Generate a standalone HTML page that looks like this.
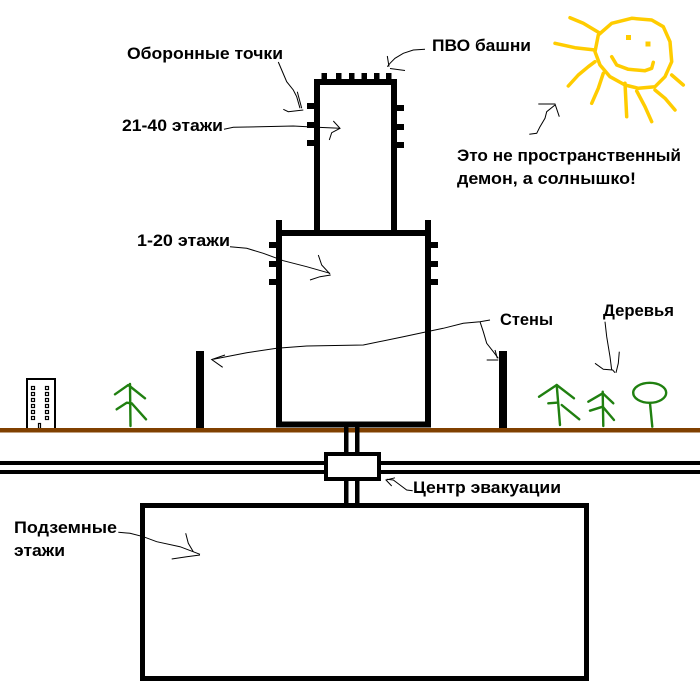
<!DOCTYPE html>
<html><head><meta charset="utf-8"><style>
html,body{margin:0;padding:0;background:#fff;}
svg{display:block;}
text{font-family:"Liberation Sans","DejaVu Sans",sans-serif;font-weight:bold;font-size:17px;fill:#000;}
.c{fill:none;stroke:#000;stroke-width:1;}
.s{fill:none;stroke:#ffcc00;stroke-width:3.5;stroke-linecap:round;stroke-linejoin:round;}
.t{fill:none;stroke:#208010;stroke-width:2.4;stroke-linecap:round;stroke-linejoin:round;}
</style></head><body>
<svg width="700" height="700" viewBox="0 0 700 700" xmlns="http://www.w3.org/2000/svg">
<rect width="700" height="700" fill="#fff"/>

<!-- Sun -->
<path class="s" d="M598.3,35 L611.7,23.3 L631.7,18.3 L651.7,20 L663.3,26.7 L670,41.7 L671.7,61.7 L665,76.7 L655,86.7 L638.3,88.3 L625,85 L610,76.7 L600,65 L595,51.7 Z"/>
<rect x="626" y="35" width="5" height="5" fill="#ffcc00"/>
<rect x="645.5" y="41.5" width="5" height="5" fill="#ffcc00"/>
<polyline class="s" points="611.7,56.7 616.7,65 628.3,69.3 645,70.7 651.7,68.3 653.3,62.3"/>
<polyline class="s" points="570,17.7 583.3,23.3 600,33.3"/>
<polyline class="s" points="555,43.3 575,47.7 595,50"/>
<polyline class="s" points="568.3,86 578.3,75 588.3,66.7 595,61.7"/>
<polyline class="s" points="603.3,73.3 598.3,88.3 591.7,103.3"/>
<polyline class="s" points="625,83.3 626.7,116.7"/>
<polyline class="s" points="636.7,91 645,106.7 651.7,121.7"/>
<polyline class="s" points="655,90 665,98.3 675,110"/>
<polyline class="s" points="671.7,75 683.3,85"/>

<!-- Left building -->
<rect x="27" y="379" width="28" height="50" fill="#fff" stroke="#000" stroke-width="2"/>
<g fill="#fff" stroke="#000" stroke-width="1.2">
<rect x="31.5" y="386.5" width="3" height="3"/><rect x="45.5" y="386.5" width="3" height="3"/>
<rect x="31.5" y="392.5" width="3" height="3"/><rect x="45.5" y="392.5" width="3" height="3"/>
<rect x="31.5" y="398.5" width="3" height="3"/><rect x="45.5" y="398.5" width="3" height="3"/>
<rect x="31.5" y="404.5" width="3" height="3"/><rect x="45.5" y="404.5" width="3" height="3"/>
<rect x="31.5" y="410.5" width="3" height="3"/><rect x="45.5" y="410.5" width="3" height="3"/>
<rect x="31.5" y="416.5" width="3" height="3"/><rect x="45.5" y="416.5" width="3" height="3"/>
<rect x="38.5" y="423.5" width="2" height="5"/>
</g>
<!-- Ground -->
<rect x="0" y="428" width="700" height="4.5" fill="#804000"/>

<!-- Trees -->
<polyline class="t" points="130,384 130.5,426"/>
<polyline class="t" points="115,394.3 128.3,385 145,398.3"/>
<polyline class="t" points="116.7,409.3 126.7,402.7 131.7,403.3 146,419.3"/>

<polyline class="t" points="556.7,385 560,425"/>
<polyline class="t" points="539,396.7 556.7,385 574,398.3"/>
<polyline class="t" points="548.3,403.3 556.7,402.7"/>
<polyline class="t" points="561.7,405 579.3,419.3"/>

<polyline class="t" points="602.7,391.7 603.3,426"/>
<polyline class="t" points="588.3,401.7 602.7,393.3 613.3,403.3"/>
<polyline class="t" points="590,410.7 602.7,406.7 614,420"/>

<ellipse cx="649.7" cy="392.8" rx="16.5" ry="10" fill="none" stroke="#208010" stroke-width="2.4"/>
<polyline class="t" points="650,403.3 652.3,426.7"/>

<!-- Standalone walls -->
<rect x="196" y="351" width="8" height="77" fill="#000"/>
<rect x="499" y="351" width="8" height="77" fill="#000"/>

<g fill="#000">
<!-- Upper tower -->
<rect x="314" y="79" width="6" height="152"/>
<rect x="391" y="79" width="6" height="152"/>
<rect x="314" y="79" width="83" height="6"/>
<rect x="321.5" y="73" width="5.5" height="6"/>
<rect x="336" y="73" width="5.5" height="6"/>
<rect x="349" y="73" width="5.5" height="6"/>
<rect x="361.5" y="73" width="5.5" height="6"/>
<rect x="374" y="73" width="5.5" height="6"/>
<rect x="386" y="73" width="5.5" height="6"/>
<rect x="307" y="103" width="7" height="6"/>
<rect x="307" y="122" width="7" height="6"/>
<rect x="307" y="140" width="7" height="6"/>
<rect x="397" y="105" width="7" height="6"/>
<rect x="397" y="124" width="7" height="6"/>
<rect x="397" y="142" width="7" height="6"/>

<!-- Lower tower -->
<rect x="276" y="220" width="6" height="207"/>
<rect x="425" y="220" width="6" height="207"/>
<rect x="276" y="230" width="155" height="6"/>
<rect x="276" y="421.5" width="155" height="6"/>
<rect x="269" y="242" width="7" height="6"/>
<rect x="269" y="261" width="7" height="6"/>
<rect x="269" y="279" width="7" height="6"/>
<rect x="431" y="242" width="7" height="6"/>
<rect x="431" y="261" width="7" height="6"/>
<rect x="431" y="279" width="7" height="6"/>

<!-- Shaft -->
<rect x="344" y="427" width="4.5" height="77"/>
<rect x="355" y="427" width="4.5" height="77"/>
<!-- Tunnels -->
<rect x="0" y="461" width="700" height="4"/>
<rect x="0" y="470" width="700" height="4"/>
</g>
<rect x="326" y="454" width="53" height="25" fill="#fff" stroke="#000" stroke-width="4"/>

<!-- Underground -->
<rect x="142.5" y="505.5" width="444" height="173" fill="#fff" stroke="#000" stroke-width="5"/>

<!-- Connectors -->
<polyline class="c" points="278.3,62 281.7,70 286.7,81.7 293.3,90 296.7,96.7 300,108.3"/>
<polyline class="c" points="297.3,91.7 301.7,108.3"/>
<polyline class="c" points="283.3,109.3 288.3,111.7 303.3,110"/>

<polyline class="c" points="425,49.3 413.3,50 403.3,53.3 395,58.3 390,63.3 387.3,66.7"/>
<polyline class="c" points="387.3,56 389,66.7"/>
<polyline class="c" points="390,68.5 405,70.5"/>

<polyline class="c" points="224,129.3 233.3,127.3 293.3,126 316.7,127.3 340,128.3"/>
<polyline class="c" points="333.3,121 340,128.3 331.7,132.7 329.3,140"/>

<polyline class="c" points="230,246.7 246.7,248.3 263.3,253.3 283.3,260.7 306.7,266.7 330,273.3"/>
<polyline class="c" points="318.3,255 321.7,265 330,274"/>
<polyline class="c" points="310,280 320,276.7 330.7,275"/>

<polyline class="c" points="490,320 480,321.7 463.3,323.3 443.3,328.3 426.7,331.7 403.3,336.7 363.3,345 306.7,346 276.7,348.3 246.7,352.7 213.3,359.3"/>
<polyline class="c" points="225,355 211.7,359.5 222.7,367.3"/>
<polyline class="c" points="480,321.7 483.3,331.7 486.7,343.3 493.3,351.7 498.3,358.3"/>
<polyline class="c" points="495,350 497.3,358.3"/>
<polyline class="c" points="486.7,360 498.3,360"/>

<polyline class="c" points="605,321.7 606.7,336.7 610,356.7 611.7,370"/>
<polyline class="c" points="595,363.3 603.3,369.3 612.7,370 615,372.7"/>
<polyline class="c" points="619.3,351.7 618.3,363.3 616,372.7"/>

<polyline class="c" points="529.3,134.3 536.7,133.3 540,126.7 545,118.3 546.7,111.7 555,105"/>
<polyline class="c" points="538.3,104 555,104 559.3,116.7"/>

<polyline class="c" points="412.7,490.7 406.7,490 400,485 393.3,480 386.7,479.3"/>
<polyline class="c" points="395,477.8 386,480 391.7,486"/>

<polyline class="c" points="118.3,532.3 130,533.3 143.3,536.7 156.7,541.7 180,546.7 200,554.3"/>
<polyline class="c" points="185.7,533.3 188.3,543.3 193.3,551.7"/>
<polyline class="c" points="171.7,559 186.7,556.7 200,555"/>

<!-- Labels -->
<text x="127" y="59" textLength="156" lengthAdjust="spacingAndGlyphs">Оборонные точки</text>
<text x="432" y="51" textLength="99" lengthAdjust="spacingAndGlyphs">ПВО башни</text>
<text x="122" y="131" textLength="101" lengthAdjust="spacingAndGlyphs">21-40 этажи</text>
<text x="137" y="246" textLength="93" lengthAdjust="spacingAndGlyphs">1-20 этажи</text>
<text x="500" y="325" textLength="53" lengthAdjust="spacingAndGlyphs">Стены</text>
<text x="603" y="316" textLength="71" lengthAdjust="spacingAndGlyphs">Деревья</text>
<text x="457" y="161" textLength="224" lengthAdjust="spacingAndGlyphs">Это не пространственный</text>
<text x="457" y="184" textLength="179" lengthAdjust="spacingAndGlyphs">демон, а солнышко!</text>
<text x="413" y="493" textLength="148" lengthAdjust="spacingAndGlyphs">Центр эвакуации</text>
<text x="14" y="533" textLength="103" lengthAdjust="spacingAndGlyphs">Подземные</text>
<text x="14" y="556" textLength="51" lengthAdjust="spacingAndGlyphs">этажи</text>
</svg>
</body></html>
